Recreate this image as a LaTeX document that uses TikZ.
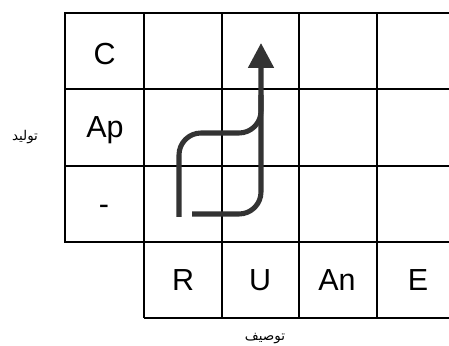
\documentclass[tikz,border=0pt]{standalone}
\usepackage{fontspec}
\setmainfont{Liberation Sans}
\newfontfamily\arabicfont[Script=Arabic]{DejaVu Sans}
\TeXXeTstate=1
\usetikzlibrary{arrows.meta}

\begin{document}
\begin{tikzpicture}[
  x=0.03cm, y=-0.03cm,
  gridline/.style={line width=2.3pt, black},
  lbl/.style={font=\fontsize{26}{30}\selectfont, inner sep=0pt, anchor=base},
  axis/.style={font=\arabicfont\fontsize{11.5}{13}\selectfont, inner sep=0pt},
  flow/.style={line width=4.3pt, black!80, rounded corners=6.6mm},
  arr/.style={flow, -{Triangle[width=7.5mm, length=7.5mm]}}
]
\useasboundingbox (0,0) rectangle (449,346);
% grid
\draw[gridline] (452,13) -- (65,13) -- (65,242) -- (452,242);
\draw[gridline] (65,89) -- (452,89);
\draw[gridline] (65,166) -- (452,166);
\draw[gridline] (144,318) -- (452,318);
\draw[gridline] (144,13) -- (144,318);
\draw[gridline] (222,13) -- (222,318);
\draw[gridline] (299,13) -- (299,318);
\draw[gridline] (377,13) -- (377,318);
% labels
\node[lbl] (c) at (104.5,65) {C};
\node[lbl] (ap) at (105,138) {Ap};
\node[lbl] (none) at (104,215) {-};
\node[lbl] (r) at (183,291) {R};
\node[lbl] (u) at (260,291) {U};
\node[lbl] (an) at (337,291) {An};
\node[lbl] (e) at (418,291) {E};
\node[axis] (prod) at (25,137) {\beginR توليد\endR};
\node[axis] (desc) at (265,339) {\beginR توصيف\endR};
% path
\coordinate (s1) at (179,217);
\coordinate (s2) at (192,214);
\coordinate (tip) at (261,43);
\draw[flow] (s1) -- (179,133) -- (261,133) -- (261,95);
\draw[arr] (s2) -- (261,214) -- (tip);
\end{tikzpicture}
\end{document}
